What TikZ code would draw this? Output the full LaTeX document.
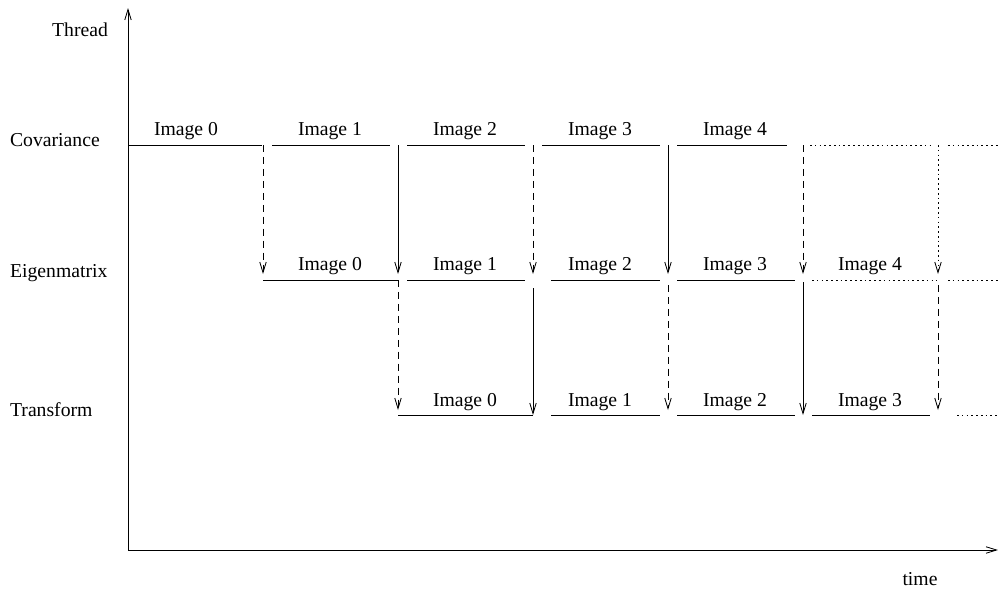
\documentclass[tikz,border=0pt]{standalone}
\usepackage{fontspec}
\setmainfont{Liberation Serif}
\usetikzlibrary{arrows.meta}

\begin{document}
\begin{tikzpicture}[x=0.025cm, y=-0.025cm, line width=0.6pt, font=\fontsize{14}{16}\selectfont,
        fwd/.style={-{Straight Barb[length=7.5pt,width=4.6pt]}},
        dashy/.style={dash pattern=on 5pt off 3.5pt},
        dotty/.style={dash pattern=on 1.2pt off 2.2pt}]
    \useasboundingbox (0,0) rectangle (998,592);
    % axes
    \draw[fwd](128,550)coordinate(O)--(128,8);
    \draw[fwd](O)--(998,550);
    \node[anchor=east] (thread) at (113,30) {Thread};
    \node (time) at (920,579) {time};
    \node[anchor=west] (cov) at (5,140) {Covariance};
    \node[anchor=west] (eig) at (5,273) {Eigenmatrix};
    \node[anchor=west] (trf) at (5,410) {Transform};
    % covariance row
    \draw(128,145)--(262,145) (272,145)--(390,145) (407,145)--(525,145) (542,145)--(660,145) (677,145)--(787,145);
    \draw[dotty](810,145)--(933,145) (948,145)--(998,145);
    \node (c0) at (186,131) {Image 0};
    \node (c1) at (330,131) {Image 1};
    \node (c2) at (465,131) {Image 2};
    \node (c3) at (600,131) {Image 3};
    \node (c4) at (735,131) {Image 4};
    \foreach \x in {263,533,803} \draw[fwd,dashy](\x,145)--(\x,274);
    \foreach \x in {398,668} \draw[fwd](\x,145)--(\x,274);
    \draw[fwd,dotty](938,145)--(938,274);
    % eigenmatrix row
    \draw(263,280)--(398,280) (407,280)--(525,280) (551,280)--(660,280) (677,280)--(795,280);
    \draw[dotty](812,280)--(937,280) (948,280)--(998,280);
    \node (e0) at (330,266) {Image 0};
    \node (e1) at (465,266) {Image 1};
    \node (e2) at (600,266) {Image 2};
    \node (e3) at (735,266) {Image 3};
    \node (e4) at (870,266) {Image 4};
    \draw[fwd,dashy](398,280)--(398,410);
    \foreach \x in {668,938} \draw[fwd,dashy](\x,285)--(\x,410);
    \draw[fwd](533,288)--(533,415);
    \draw[fwd](803,282)--(803,415);
    % transform row
    \draw(398,415)--(533,415) (551,415)--(660,415) (677,415)--(795,415) (812,415)--(930,415);
    \draw[dotty](957,415)--(998,415);
    \node (t0) at (465,402) {Image 0};
    \node (t1) at (600,402) {Image 1};
    \node (t2) at (735,402) {Image 2};
    \node (t3) at (870,402) {Image 3};
\end{tikzpicture}
\end{document}
